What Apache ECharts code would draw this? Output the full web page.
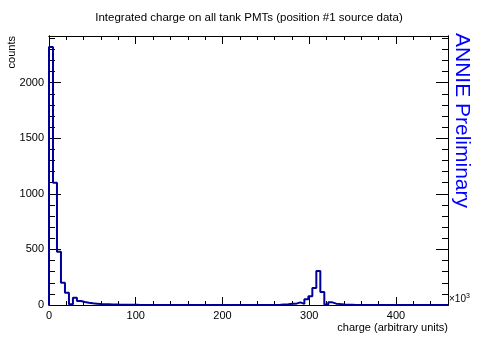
<!DOCTYPE html>
<html>
<head>
<meta charset="utf-8">
<script src="https://cdn.jsdelivr.net/npm/echarts@6/dist/echarts.min.js"></script>
<style>
  html, body { margin: 0; padding: 0; background: #fff; }
  #chart { width: 498px; height: 339px; }
</style>
</head>
<body>
<div id="chart"></div>
<script>
// histogram: 100 bins of 4.6 (x10^3) from 0 to 460
const binWidth = 4.6
const counts = [
  2320, 1100, 480, 200, 110, 6, 66, 36, 27, 20,
  15, 12, 9, 7, 6, 5, 4, 3, 3, 2,
  2, 2, 1, 1, 1, 1, 1, 0, 1, 0,
  0, 0, 1, 0, 0, 0, 0, 0, 0, 0,
  0, 0, 0, 0, 0, 0, 0, 0, 0, 0,
  0, 0, 0, 1, 0, 0, 1, 2, 4, 6,
  12, 12, 24, 10, 51, 78, 153, 305, 117, 4,
  24, 12, 8, 5, 3, 2, 1, 1, 0, 1,
  0, 0, 0, 0, 0, 0, 0, 0, 0, 0,
  0, 0, 0, 0, 0, 0, 0, 0, 0, 0,
]
const xMin = 0
const xMax = 460
const yMin = 0
const yMax = 2420
const xMajor = 100
const xMinor = 20
const yMajor = 500
const yMinor = 100

const titleText = 'Integrated charge on all tank PMTs (position #1 source data)'
const xTitle = 'charge (arbitrary units)'
const yTitle = 'counts'
const stampText = 'ANNIE Preliminary'

// outline points of the histogram (left edge of each bin)
const points = [[0, 0]]
counts.forEach((c, i) => points.push([i * binWidth, c]))
points.push([counts.length * binWidth, counts[counts.length - 1]])

const font = 'Liberation Sans, Arial, Helvetica, sans-serif'
const black = '#000'

function xAx(pos, interval, tickLen, showLabel) {
  return {
    type: 'value', position: pos, min: xMin, max: xMax, interval: interval,
    axisLine: { show: true, onZero: false, lineStyle: { color: black, width: 1 } },
    axisTick: { show: true, inside: true, length: tickLen, lineStyle: { color: black } },
    axisLabel: {
      show: showLabel, color: black, fontFamily: font, fontSize: 11, margin: 5,
      showMaxLabel: false, formatter: v => String(v),
    },
    splitLine: { show: false },
  }
}

function yAx(pos, interval, tickLen, showLabel) {
  return {
    type: 'value', position: pos, min: yMin, max: yMax, interval: interval,
    axisLine: { show: true, onZero: false, lineStyle: { color: black, width: 1 } },
    axisTick: { show: true, inside: true, length: tickLen, lineStyle: { color: black } },
    axisLabel: {
      show: showLabel, color: black, fontFamily: font, fontSize: 11, margin: 5,
      showMaxLabel: false, formatter: v => String(v),
    },
    splitLine: { show: false },
  }
}

const chart = echarts.init(document.getElementById('chart'), null, { renderer: 'canvas' })
chart.setOption({
  animation: false,
  backgroundColor: '#fff',
  grid: { left: 49, right: 50, top: 36, bottom: 34 },
  title: {
    text: titleText, left: 'center', top: 7,
    textStyle: { fontFamily: font, fontSize: 11.5, fontWeight: 'normal', color: black },
  },
  xAxis: [
    xAx('bottom', xMajor, 8, true),
    xAx('bottom', xMinor, 4, false),
    xAx('top', xMajor, 8, false),
    xAx('top', xMinor, 4, false),
  ],
  yAxis: [
    yAx('left', yMajor, 12, true),
    yAx('left', yMinor, 6, false),
    yAx('right', yMajor, 12, false),
    yAx('right', yMinor, 6, false),
  ],
  series: [{
    type: 'line',
    xAxisIndex: 0,
    yAxisIndex: 0,
    step: 'end',
    symbol: 'none',
    lineStyle: { color: '#000099', width: 2 },
    data: points,
  }],
  graphic: [
    {
      type: 'text', x: 12, y: 36, rotation: Math.PI / 2,
      style: { text: yTitle, fill: black, font: '11px ' + font, align: 'right', verticalAlign: 'middle' },
    },
    {
      type: 'text', x: 448, y: 328,
      style: { text: xTitle, fill: black, font: '11px ' + font, align: 'right', verticalAlign: 'middle' },
    },
    {
      type: 'text', x: 449, y: 299,
      style: {
        text: '×10{s|3}', fill: black, font: '10px ' + font, align: 'left', verticalAlign: 'middle',
        rich: { s: { fontSize: 7, verticalAlign: 'top', padding: [0, 0, 6, 0] } },
      },
    },
    {
      type: 'text', x: 462, y: 33, rotation: -Math.PI / 2,
      style: { text: stampText, fill: '#0000ff', font: '21px ' + font, align: 'left', verticalAlign: 'middle' },
    },
  ],
})
</script>
</body>
</html>
